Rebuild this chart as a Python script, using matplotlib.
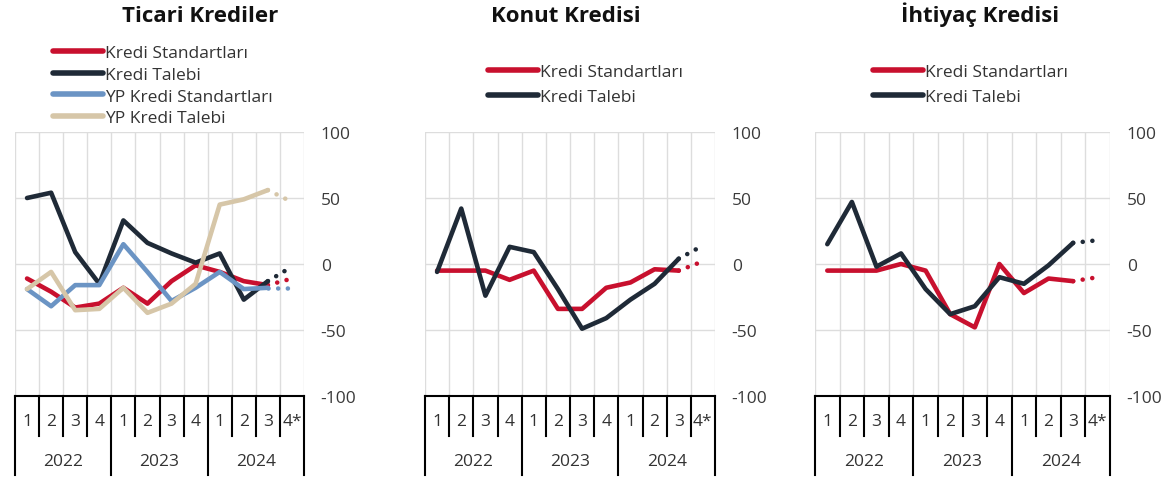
import matplotlib
matplotlib.use('Agg')
import matplotlib.pyplot as plt
import numpy as np
from matplotlib.transforms import blended_transform_factory
from matplotlib.lines import Line2D

plt.rcParams['font.family'] = ['Open Sans', 'DejaVu Sans']
plt.rcParams['axes.unicode_minus'] = False

# ---------------- data ----------------
quarters = ['1', '2', '3', '4', '1', '2', '3', '4', '1', '2', '3', '4*']
years = ['2022', '2023', '2024']
titles = ['Ticari Krediler', 'Konut Kredisi', 'İhtiyaç Kredisi']

ticari_std = [-11, -21, -33, -30, -18, -30, -13, -1, -6, -13, -16, -11]
ticari_talep = [50, 54, 9, -15, 33, 16, 8, 1, 8, -27, -13, -2]
ticari_yp_std = [-19, -32, -16, -16, 15, -6, -28, -18, -6, -19, -18, -18]
ticari_yp_talep = [-19, -6, -35, -34, -18, -37, -30, -15, 45, 49, 56, 47]

konut_std = [-5, -5, -5, -12, -5, -34, -34, -18, -14, -4, -5, 2]
konut_talep = [-6, 42, -24, 13, 9, -19, -49, -41, -27, -15, 4, 14]

ihtiyac_std = [-5, -5, -5, 0, -5, -38, -48, 0, -22, -11, -13, -10]
ihtiyac_talep = [15, 47, -2, 8, -19, -38, -32, -10, -15, -1, 16, 18]

series_labels = ['Kredi Standartları', 'Kredi Talebi', 'YP Kredi Standartları', 'YP Kredi Talebi']
colors = ['#c8102e', '#1f2a37', '#6b94c4', '#d6c6a8']

panels = [
    [ticari_std, ticari_talep, ticari_yp_std, ticari_yp_talep],
    [konut_std, konut_talep],
    [ihtiyac_std, ihtiyac_talep],
]

# ---------------- layout ----------------
W, H = 1173, 481
fig = plt.figure(figsize=(W / 100, H / 100), dpi=100)

ax_px = [(15, 304), (425, 715), (815, 1110)]
y_top, y_bot = 133, 397
title_x = [200, 566, 980]
legend_anchor = [(53, 46, 0.32), (488, 65, 0.48), (873, 65, 0.48)]

x = np.arange(len(quarters)) + 0.5
n_solid = 11

for i, (x0, x1) in enumerate(ax_px):
    ax = fig.add_axes([x0 / W, 1 - y_bot / H, (x1 - x0) / W, (y_bot - y_top) / H])
    ax.set_xlim(0, 12)
    ax.set_ylim(-100, 100)
    for s in ['top', 'left', 'right']:
        ax.spines[s].set_visible(False)
    ax.spines['bottom'].set_color('black')
    ax.spines['bottom'].set_linewidth(1.5)
    ax.set_xticks(range(13))
    ax.set_xticklabels([])
    ax.set_yticks([-100, -50, 0, 50, 100])
    ax.yaxis.tick_right()
    ax.tick_params(axis='y', length=0, pad=12, labelsize=12.5, colors='#3a3a3a')
    ax.tick_params(axis='x', length=0)
    ax.grid(True, color='#dddddd', linewidth=1)
    ax.set_axisbelow(True)

    handles = []
    for j, vals in enumerate(panels[i]):
        c = colors[j]
        ax.plot(x[:n_solid], vals[:n_solid], color=c, lw=3.3,
                solid_capstyle='round', solid_joinstyle='round', zorder=3)
        ax.plot(x[n_solid - 1:], vals[n_solid - 1:], color=c, lw=3.3,
                linestyle=(0, (0.01, 2.1)), dash_capstyle='round', zorder=3)
        handles.append(Line2D([], [], color=c, lw=4, solid_capstyle='round'))

    # multi-level category axis
    tr = blended_transform_factory(ax.transData, ax.transAxes)
    for k in range(13):
        if k % 4 == 0:
            ax.plot([k, k], [0, -0.30], color='black', lw=1.5, transform=tr, clip_on=False)
        else:
            ax.plot([k, k], [0, -0.152], color='black', lw=1.5, transform=tr, clip_on=False)
    for k, q in enumerate(quarters):
        ax.text(k + 0.5, -0.095, q, transform=tr, ha='center', va='center',
                fontsize=12.5, color='#333333')
    for k, yr in enumerate(years):
        ax.text(4 * k + 2, -0.245, yr, transform=tr, ha='center', va='center',
                fontsize=12.5, color='#333333')

    # title
    fig.text(title_x[i] / W, 1 - 22 / H, titles[i], ha='center', va='baseline',
             fontsize=16, fontweight='bold', color='#111111')

    # legend
    lx, ly, lsp = legend_anchor[i]
    fig.legend(handles, series_labels[:len(panels[i])], loc='upper left',
               bbox_to_anchor=(lx / W, 1 - ly / H), frameon=False, borderpad=0,
               borderaxespad=0, handlelength=2.9, handletextpad=0.12,
               labelspacing=lsp, fontsize=12.5, labelcolor='#333333')

fig.savefig('out.png', dpi=100, facecolor='white')
